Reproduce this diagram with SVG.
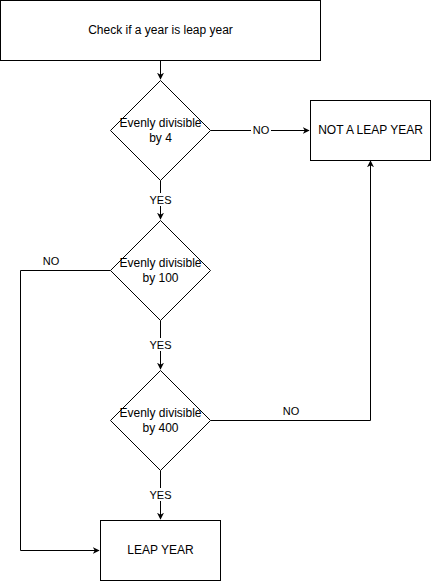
<svg xmlns="http://www.w3.org/2000/svg" width="431" height="581" viewBox="0 0 431 581">
<style>
.shape{fill:#fff;stroke:#000;stroke-width:1}
.edge{fill:none;stroke:#000;stroke-width:1}
.t{font-family:"Liberation Sans",Arial,sans-serif;font-size:12px;fill:#000;text-anchor:middle}
.lbl{font-family:"Liberation Sans",Arial,sans-serif;font-size:11px;fill:#000;text-anchor:middle}
.bg{fill:#fff}
</style>
<defs>
<marker id="arr" viewBox="0 0 10 10" refX="9" refY="5" markerWidth="7" markerHeight="7" markerUnits="userSpaceOnUse" orient="auto">
<path d="M0,0 L10,5 L0,10 L3,5 Z" fill="#000"/>
</marker>
</defs>
<g id="connectors">
<path class="edge" d="M160.5,60.5 V79" marker-end="url(#arr)"/>
<path class="edge" d="M210.5,130.5 H309" marker-end="url(#arr)"/>
<rect class="bg" x="251" y="124" width="20" height="13"/>
<text class="lbl" x="261" y="134">NO</text>
<path class="edge" d="M160.5,180.5 V219" marker-end="url(#arr)"/>
<rect class="bg" x="148" y="193" width="25" height="13"/>
<text class="lbl" x="160.5" y="204">YES</text>
<path class="edge" d="M110.5,270.5 H20.5 V550.5 H99" marker-end="url(#arr)"/>
<text class="lbl" x="51" y="265">NO</text>
<path class="edge" d="M160.5,320.5 V369" marker-end="url(#arr)"/>
<rect class="bg" x="148" y="338" width="25" height="13"/>
<text class="lbl" x="160.5" y="349">YES</text>
<path class="edge" d="M210.5,420.5 H370.5 V161" marker-end="url(#arr)"/>
<text class="lbl" x="291" y="415">NO</text>
<path class="edge" d="M160.5,470.5 V519" marker-end="url(#arr)"/>
<rect class="bg" x="148" y="488" width="25" height="13"/>
<text class="lbl" x="160.5" y="499">YES</text>
</g>
<g id="start">
<rect class="shape" x="0.5" y="0.5" width="320" height="60"/>
<text class="t" x="160.5" y="34">Check if a year is leap year</text>
</g>
<g id="div4">
<path class="shape" d="M160.5,80.5 L210.5,130.5 L160.5,180.5 L110.5,130.5 Z"/>
<text class="t" x="160.5" y="127">Evenly divisible</text>
<text class="t" x="160.5" y="142">by 4</text>
</g>
<g id="notleap">
<rect class="shape" x="310.5" y="100.5" width="120" height="60"/>
<text class="t" x="370.5" y="134">NOT A LEAP YEAR</text>
</g>
<g id="div100">
<path class="shape" d="M160.5,220.5 L210.5,270.5 L160.5,320.5 L110.5,270.5 Z"/>
<text class="t" x="160.5" y="267">Evenly divisible</text>
<text class="t" x="160.5" y="282">by 100</text>
</g>
<g id="div400">
<path class="shape" d="M160.5,370.5 L210.5,420.5 L160.5,470.5 L110.5,420.5 Z"/>
<text class="t" x="160.5" y="417">Evenly divisible</text>
<text class="t" x="160.5" y="432">by 400</text>
</g>
<g id="leap">
<rect class="shape" x="100.5" y="520.5" width="120" height="60"/>
<text class="t" x="160.5" y="554">LEAP YEAR</text>
</g>
</svg>
